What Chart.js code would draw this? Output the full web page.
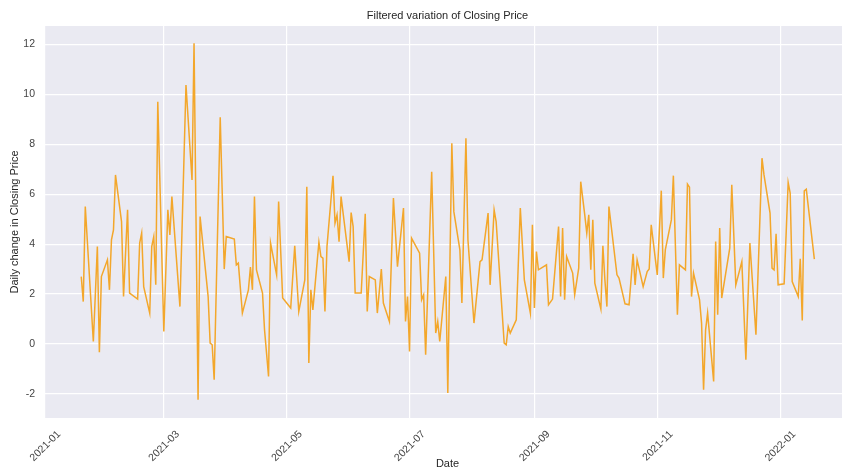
<!DOCTYPE html>
<html lang="en">
<head>
    <script src="https://cdn.jsdelivr.net/npm/chart.js@4.4.0/dist/chart.umd.min.js"></script>
    <style>
        html, body { margin: 0; background: #fff; overflow: hidden; }
    </style>
</head>

<body>

<!-- the axes run a little past the right edge of the picture, as in the original -->
<canvas id="myChart" width="850" height="471"></canvas>
<script>
    // trading dates and daily change in closing price
    const dates = [
        '2021-01-19','2021-01-20','2021-01-21','2021-01-25','2021-01-27','2021-01-28','2021-01-29',
        '2021-02-01','2021-02-02','2021-02-03','2021-02-04','2021-02-05','2021-02-08','2021-02-09',
        '2021-02-11','2021-02-12','2021-02-16','2021-02-17','2021-02-18','2021-02-19','2021-02-22',
        '2021-02-23','2021-02-24','2021-02-25','2021-02-26','2021-03-01','2021-03-03','2021-03-04',
        '2021-03-05','2021-03-09','2021-03-12','2021-03-15','2021-03-16','2021-03-18','2021-03-19',
        '2021-03-23','2021-03-24','2021-03-25','2021-03-26','2021-03-29','2021-03-31','2021-04-01',
        '2021-04-05','2021-04-06','2021-04-07','2021-04-09','2021-04-12','2021-04-13','2021-04-14',
        '2021-04-15','2021-04-16','2021-04-19','2021-04-20','2021-04-22','2021-04-23','2021-04-26',
        '2021-04-27','2021-04-29','2021-05-03','2021-05-05','2021-05-07','2021-05-10','2021-05-11',
        '2021-05-12','2021-05-13','2021-05-14','2021-05-17','2021-05-18','2021-05-19','2021-05-20',
        '2021-05-21','2021-05-24','2021-05-25','2021-05-26','2021-05-27','2021-05-28','2021-06-01',
        '2021-06-02','2021-06-03','2021-06-04','2021-06-07','2021-06-09','2021-06-10','2021-06-11',
        '2021-06-14','2021-06-15','2021-06-17','2021-06-18','2021-06-21','2021-06-23','2021-06-25',
        '2021-06-28','2021-06-29','2021-06-30','2021-07-01','2021-07-02','2021-07-06','2021-07-07',
        '2021-07-08','2021-07-09','2021-07-12','2021-07-14','2021-07-15','2021-07-16','2021-07-19',
        '2021-07-20','2021-07-22','2021-07-23','2021-07-26','2021-07-27','2021-07-29','2021-07-30',
        '2021-08-02','2021-08-05','2021-08-06','2021-08-09','2021-08-10','2021-08-12','2021-08-13',
        '2021-08-17','2021-08-18','2021-08-19','2021-08-20','2021-08-23','2021-08-25','2021-08-27',
        '2021-08-30','2021-08-31','2021-09-01','2021-09-02','2021-09-03','2021-09-07','2021-09-08',
        '2021-09-10','2021-09-13','2021-09-14','2021-09-15','2021-09-16','2021-09-17','2021-09-20',
        '2021-09-21','2021-09-23','2021-09-24','2021-09-26','2021-09-27','2021-09-28','2021-09-29',
        '2021-09-30','2021-10-01','2021-10-04','2021-10-05','2021-10-06','2021-10-07','2021-10-08',
        '2021-10-12','2021-10-13','2021-10-16','2021-10-18','2021-10-20','2021-10-21','2021-10-22',
        '2021-10-25','2021-10-27','2021-10-28','2021-10-29','2021-11-01','2021-11-03','2021-11-04',
        '2021-11-05','2021-11-08','2021-11-09','2021-11-11','2021-11-12','2021-11-15','2021-11-16',
        '2021-11-17','2021-11-18','2021-11-19','2021-11-22','2021-11-23','2021-11-24','2021-11-25',
        '2021-11-26','2021-11-29','2021-11-30','2021-12-01','2021-12-02','2021-12-03','2021-12-07',
        '2021-12-08','2021-12-10','2021-12-13','2021-12-15','2021-12-17','2021-12-20','2021-12-23',
        '2021-12-24','2021-12-27','2021-12-28','2021-12-29','2021-12-30','2021-12-31','2022-01-03',
        '2022-01-05','2022-01-06','2022-01-07','2022-01-10','2022-01-11','2022-01-12','2022-01-13',
        '2022-01-14','2022-01-18'
    ];
    const dailyChange = [
        2.70, 1.70, 5.50, 0.10, 3.90, -0.33, 2.70,
        3.37, 2.17, 4.17, 4.57, 6.77, 4.90, 1.90,
        5.37, 2.04, 1.80, 4.04, 4.44, 2.30, 1.24,
        3.90, 4.30, 2.37, 9.70, 0.50, 5.37, 4.37,
        5.90, 1.50, 10.37, 6.57, 12.04, -2.23, 5.10,
        1.90, 0.04, -0.03, -1.43, 9.08, 3.00, 4.30,
        4.20, 3.17, 3.24, 1.24, 2.17, 3.08, 2.17,
        5.90, 2.97, 2.04, 0.57, -1.30, 4.04, 2.77,
        5.70, 1.84, 1.44, 3.93, 1.30, 2.57, 6.30,
        -0.76, 2.17, 1.37, 4.08, 3.50, 3.44, 1.30,
        3.90, 6.73, 4.84, 5.17, 4.10, 5.90, 3.30,
        5.26, 4.70, 2.04, 2.04, 5.21, 1.30, 2.70,
        2.57, 1.24, 3.00, 1.64, 0.90, 5.84, 3.10,
        5.44, 0.90, 1.90, -0.30, 4.24, 3.64, 1.77,
        1.97, -0.43, 6.90, 0.44, 0.90, 0.10, 2.70,
        -1.96, 8.04, 5.30, 3.77, 1.64, 8.24, 4.17,
        0.84, 3.30, 3.37, 5.24, 2.37, 5.37, 4.90,
        0.04, -0.03, 0.70, 0.44, 0.97, 5.44, 2.57,
        1.24, 4.77, 1.44, 3.70, 2.97, 3.17, 1.57,
        1.80, 4.70, 1.90, 4.64, 1.77, 3.50, 2.84,
        1.97, 3.04, 6.50, 5.17, 4.44, 5.17, 2.97,
        4.97, 2.44, 1.40, 3.93, 2.57, 1.50, 5.50,
        2.77, 2.64, 1.61, 1.57, 3.61, 2.37, 3.37,
        2.30, 2.90, 3.00, 4.77, 2.77, 6.14, 2.64,
        3.77, 4.97, 6.74, 1.17, 3.17, 2.97, 6.40,
        6.28, 1.90, 2.84, 1.77, 0.84, -1.83, 0.57,
        1.24, -1.50, 4.10, 1.17, 4.64, 1.84, 3.84,
        6.37, 2.37, 3.30, -0.63, 4.04, 0.37, 7.44,
        6.77, 5.24, 3.04, 2.97, 4.41, 2.37, 2.41,
        6.46, 6.04, 2.50, 1.90, 3.41, 0.94, 6.13,
        6.20, 3.40
    ];
    const monthTicks = ['2021-01', '2021-03', '2021-05', '2021-07', '2021-09', '2021-11', '2022-01'];
    const yTicks = [-2, 0, 2, 4, 6, 8, 10, 12];

    // no date adapter available, so dates become day numbers from 2021-01-01
    const origin = Date.UTC(2021, 0, 1);
    const dayOf = s => {
        const p = s.split('-').map(Number);
        return (Date.UTC(p[0], p[1] - 1, p[2] || 1) - origin) / 86400000;
    };
    const monthDays = monthTicks.map(dayOf);

    const plotBg = {
        id: 'plotBg',
        beforeDraw(chart) {
            const {ctx, chartArea: a} = chart;
            ctx.save();
            ctx.fillStyle = '#EAEAF2';
            ctx.fillRect(a.left, a.top, a.right - a.left, a.bottom - a.top);
            ctx.restore();
        }
    };

    const font = {family: '"Liberation Sans", Arial, sans-serif'};

    const config = {
        type: 'line',
        data: {
            datasets: [{
                label: 'Daily change',
                data: dates.map((d, i) => ({x: dayOf(d), y: dailyChange[i]})),
                borderColor: '#F3A72B',
                borderWidth: 1.5,
                pointRadius: 0,
                tension: 0,
                fill: false
            }]
        },
        options: {
            responsive: false,
            animation: false,
            layout: {padding: 0},
            plugins: {
                legend: {display: false},
                tooltip: {enabled: false},
                title: {display: false}
            },
            scales: {
                // empty top axis, only there to centre the title over the plot
                top: {
                    type: 'linear',
                    position: 'top',
                    min: 0,
                    max: 399.7,
                    afterFit: s => { s.height = 26; },
                    grid: {display: false},
                    border: {display: false},
                    ticks: {display: false},
                    title: {
                        display: true,
                        text: 'Filtered variation of Closing Price',
                        color: '#262626',
                        font: {...font, size: 11},
                        padding: {top: 9, bottom: 0}
                    }
                },
                x: {
                    type: 'linear',
                    min: 0,
                    max: 399.7,
                    afterFit: s => { s.height = 53; },
                    afterBuildTicks: s => { s.ticks = monthDays.map(v => ({value: v})); },
                    grid: {color: '#FFFFFF', lineWidth: 1.2, drawTicks: false},
                    border: {display: false},
                    ticks: {
                        color: '#444',
                        font: {...font, size: 10.5},
                        minRotation: 45,
                        maxRotation: 45,
                        padding: 10,
                        labelOffset: 14,
                        callback: v => monthTicks[monthDays.indexOf(v)]
                    },
                    title: {
                        display: true,
                        text: 'Date',
                        color: '#262626',
                        font: {...font, size: 11},
                        padding: 0
                    }
                },
                y: {
                    min: -2.96,
                    max: 12.73,
                    afterFit: s => { s.width = 45; },
                    afterBuildTicks: s => { s.ticks = yTicks.map(v => ({value: v})); },
                    grid: {color: '#FFFFFF', lineWidth: 1.2, drawTicks: false},
                    border: {display: false},
                    ticks: {
                        color: '#444',
                        font: {...font, size: 10.5},
                        padding: 10
                    },
                    title: {
                        display: true,
                        text: 'Daily change in Closing Price',
                        color: '#262626',
                        font: {...font, size: 11},
                        padding: {top: 8, bottom: 0}
                    }
                }
            }
        },
        plugins: [plotBg]
    };

    const myChart = new Chart(
        document.getElementById('myChart'),
        config
    );
</script>
</body>
</html>
